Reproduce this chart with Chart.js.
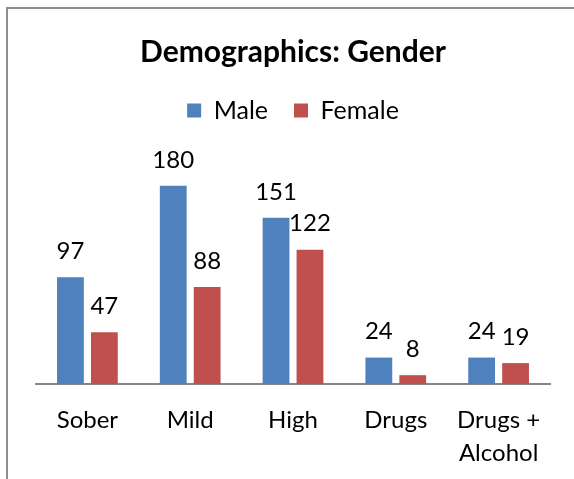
<!DOCTYPE html>
<html>
<head>
<meta charset="utf-8">
<script src="https://cdn.jsdelivr.net/npm/chart.js@4"></script>
<style>
  html, body { margin: 0; padding: 0; background: #fff; overflow: hidden; }
  #wrap { position: relative; width: 574px; height: 479px; }
  #frame { position: absolute; left: 6px; top: 7px; width: 700px; height: 700px;
           border-left: 2px solid #8e8e8e; border-top: 2px solid #8e8e8e; pointer-events: none; }
</style>
</head>
<body>
<div id="wrap">
  <canvas id="chart" width="574" height="479"></canvas>
  <div id="frame"></div>
</div>
<script>
const categories = ['Sober', 'Mild', 'High', 'Drugs', ['Drugs +', 'Alcohol']];
const maleValues = [97, 180, 151, 24, 24];
const femaleValues = [47, 88, 122, 8, 19];

const FONT = 'Lato';

// value labels above each bar
const barLabels = {
  id: 'barLabels',
  afterDatasetsDraw(chart) {
    const ctx = chart.ctx;
    ctx.save();
    ctx.font = '24px ' + FONT;
    ctx.fillStyle = '#000';
    ctx.textAlign = 'center';
    ctx.textBaseline = 'middle';
    chart.data.datasets.forEach((ds, i) => {
      chart.getDatasetMeta(i).data.forEach((bar, j) => {
        ctx.fillText(String(ds.data[j]), bar.x, bar.y - 26);
      });
    });
    ctx.restore();
  }
};

new Chart(document.getElementById('chart'), {
  type: 'bar',
  data: {
    labels: categories,
    datasets: [
      { label: 'Male', data: maleValues, backgroundColor: '#4f81bd' },
      { label: 'Female', data: femaleValues, backgroundColor: '#c0504d' }
    ]
  },
  options: {
    responsive: false,
    animation: false,
    categoryPercentage: 0.66,
    barPercentage: 0.79,
    layout: { padding: { left: 36, right: 24, top: 0, bottom: -11 } },
    plugins: {
      title: {
        display: true,
        text: 'Demographics: Gender',
        color: '#000',
        font: { family: FONT, size: 30, weight: 'bold', lineHeight: 1.2 },
        padding: { top: 34, bottom: 2 }
      },
      legend: {
        display: true,
        position: 'top',
        labels: {
          color: '#000',
          font: { family: FONT, size: 25 },
          boxWidth: 14,
          boxHeight: 14,
          padding: 26
        }
      },
      tooltip: { enabled: false }
    },
    scales: {
      x: {
        grid: { display: false, drawTicks: false },
        border: { display: true, color: '#868686', width: 2 },
        ticks: {
          color: '#000',
          padding: 20,
          maxRotation: 0,
          autoSkip: false,
          font: { family: FONT, size: 24, lineHeight: 1.375 }
        }
      },
      y: {
        display: false,
        min: 0,
        max: 228
      }
    }
  },
  plugins: [barLabels]
});
</script>
</body>
</html>
